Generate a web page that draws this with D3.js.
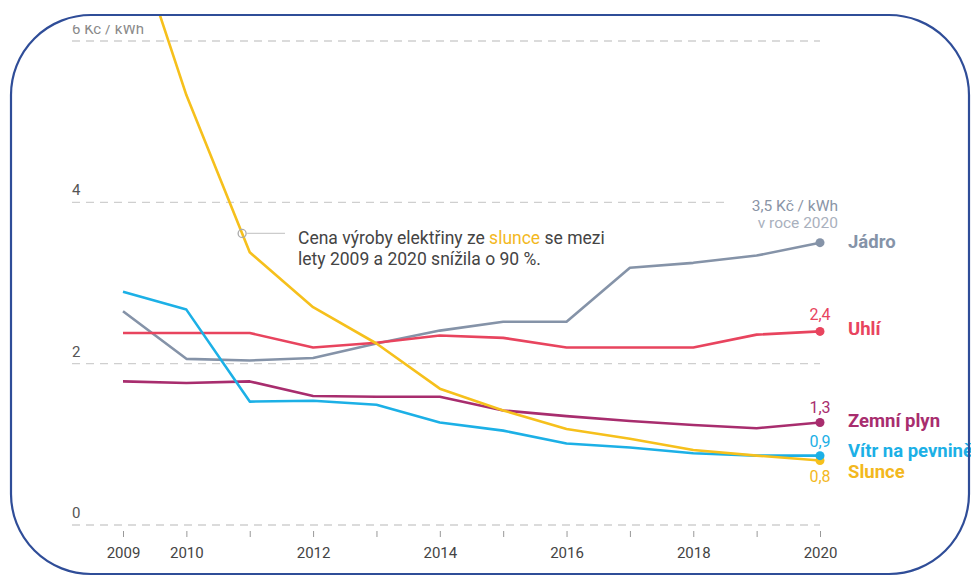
<!DOCTYPE html>
<html><head><meta charset="utf-8">
<script src="https://cdn.jsdelivr.net/npm/d3@7"></script>
<style>
html,body{margin:0;padding:0;background:#fff;}
svg{display:block;font-family:Roboto,"Noto Sans",sans-serif;}
</style></head>
<body>
<svg id="c" width="971" height="576"></svg>
<script>
const years = [2009,2010,2011,2012,2013,2014,2015,2016,2017,2018,2019,2020];
const jadro = [2.65,2.06,2.04,2.07,2.25,2.41,2.52,2.52,3.19,3.25,3.34,3.50];
const uhli  = [2.38,2.38,2.38,2.20,2.26,2.35,2.32,2.20,2.20,2.20,2.36,2.40];
const plyn  = [1.78,1.76,1.78,1.60,1.59,1.59,1.42,1.35,1.29,1.24,1.20,1.27];
const vitr  = [2.89,2.67,1.53,1.54,1.49,1.27,1.17,1.01,0.96,0.89,0.86,0.86];
const slunce= [7.70,5.33,3.38,2.70,2.25,1.69,1.42,1.19,1.07,0.93,0.86,0.80];
const yTicks = [0,2,4,6];
const xTickLabels = [2009,2010,2012,2014,2016,2018,2020];
const seriesNames = ["Jádro","Uhlí","Zemní plyn","Vítr na pevnině","Slunce"];
const endLabels = ["","2,4","1,3","0,9","0,8"];

const colors = ["#8593a8","#e8445e","#a82d6e","#1cb0e6","#f6c01c"];
const textColors = ["#8593a8","#e8445e","#a82d6e","#1cb0e6","#f3b81e"];
const seriesVals = [jadro,uhli,plyn,vitr,slunce];

const svg = d3.select("#c");
const x = d3.scaleLinear().domain([2009,2020]).range([123,820]);
const y = d3.scaleLinear().domain([0,6]).range([525,41]);

const defs = svg.append("defs");
defs.append("clipPath").attr("id","clipLines").append("rect")
  .attr("x",11).attr("y",16).attr("width",958).attr("height",558);
defs.append("clipPath").attr("id","clipTop").append("rect")
  .attr("x",0).attr("y",25).attr("width",971).attr("height",551);

// grid
const gridEnd = {0:820,2:820,4:727,6:820};
svg.append("g").selectAll("line").data(yTicks).join("line")
  .attr("x1",72).attr("x2",d=>gridEnd[d])
  .attr("y1",d=>y(d)).attr("y2",d=>y(d))
  .attr("stroke","#cfcfcf").attr("stroke-width",1.3).attr("stroke-dasharray","8,6");

svg.append("g").selectAll("text").data(yTicks).join("text")
  .attr("x",72).attr("y",d=>y(d)-7)
  .attr("font-size",15).attr("fill",d=>d===6?"#8a8a8a":"#555")
  .attr("clip-path",d=>d===6?"url(#clipTop)":null)
  .text(d=>d===6?"6 Kč / kWh":d);

// x axis
const xAxis = d3.axisBottom(x).tickValues(years).tickSize(6).tickFormat(d=>xTickLabels.includes(d)?d:"");
const gx = svg.append("g").attr("transform","translate(0,531)").call(xAxis);
gx.select(".domain").remove();
gx.selectAll(".tick line").attr("stroke","#999").attr("stroke-width",1);
gx.selectAll(".tick text").attr("font-size",15).attr("fill","#444")
  .attr("font-family","Roboto,sans-serif").attr("dy","1.2em");

// lines
const line = d3.line().x((d,i)=>x(years[i])).y(d=>y(d));
const gl = svg.append("g").attr("clip-path","url(#clipLines)");
[0,1,2,3,4].forEach(i=>{
  gl.append("path").datum(seriesVals[i]).attr("d",line)
    .attr("fill","none").attr("stroke",colors[i]).attr("stroke-width",2.6)
    .attr("stroke-linejoin","round");
});
[0,1,2,4,3].forEach(i=>{
  const v = seriesVals[i][years.length-1];
  svg.append("circle").attr("cx",x(2020)).attr("cy",y(v)).attr("r",4.5).attr("fill",colors[i]);
});

// names
const nameY = [248,335,427,457,478];
seriesNames.forEach((n,i)=>{
  svg.append("text").attr("x",848).attr("y",nameY[i]).attr("font-size",18.5).attr("font-weight",700)
    .attr("fill",textColors[i]).text(n);
});
// end values
const valY = [0,320,413,447,482];
endLabels.forEach((t,i)=>{
  if(!t) return;
  svg.append("text").attr("x",x(2020)).attr("y",valY[i]).attr("text-anchor","middle")
    .attr("font-size",16).attr("fill",textColors[i]).text(t);
});
svg.append("text").attr("x",838).attr("y",211).attr("text-anchor","end").attr("font-size",15.5)
  .attr("fill","#8a94a6").text("3,5 Kč / kWh");
svg.append("text").attr("x",838).attr("y",228).attr("text-anchor","end").attr("font-size",15.5)
  .attr("fill","#a9b0bd").text("v roce 2020");

// annotation
const ax = x(2010) + (x(2011)-x(2010))*0.88;
const ay = y(slunce[1] + (slunce[2]-slunce[1])*0.88);
svg.append("line").attr("x1",ax+5).attr("x2",285).attr("y1",ay).attr("y2",ay)
  .attr("stroke","#cccccc").attr("stroke-width",1.2);
svg.append("circle").attr("cx",ax).attr("cy",ay).attr("r",4).attr("fill","none")
  .attr("stroke","#aaaaaa").attr("stroke-width",1.3);
const t1 = svg.append("text").attr("x",298).attr("y",244).attr("font-size",17.5).attr("fill","#444");
t1.append("tspan").text("Cena výroby elektřiny ze ");
t1.append("tspan").attr("fill","#f3b81e").text("slunce");
t1.append("tspan").text(" se mezi");
svg.append("text").attr("x",298).attr("y",265).attr("font-size",17.5).attr("fill","#444")
  .text("lety 2009 a 2020 snížila o 90 %.");

// border
svg.append("rect").attr("x",11).attr("y",15).attr("width",958).attr("height",559)
  .attr("rx",80).attr("ry",80).attr("fill","none").attr("stroke","#2f4d98").attr("stroke-width",2.2);
</script>
</body></html>
